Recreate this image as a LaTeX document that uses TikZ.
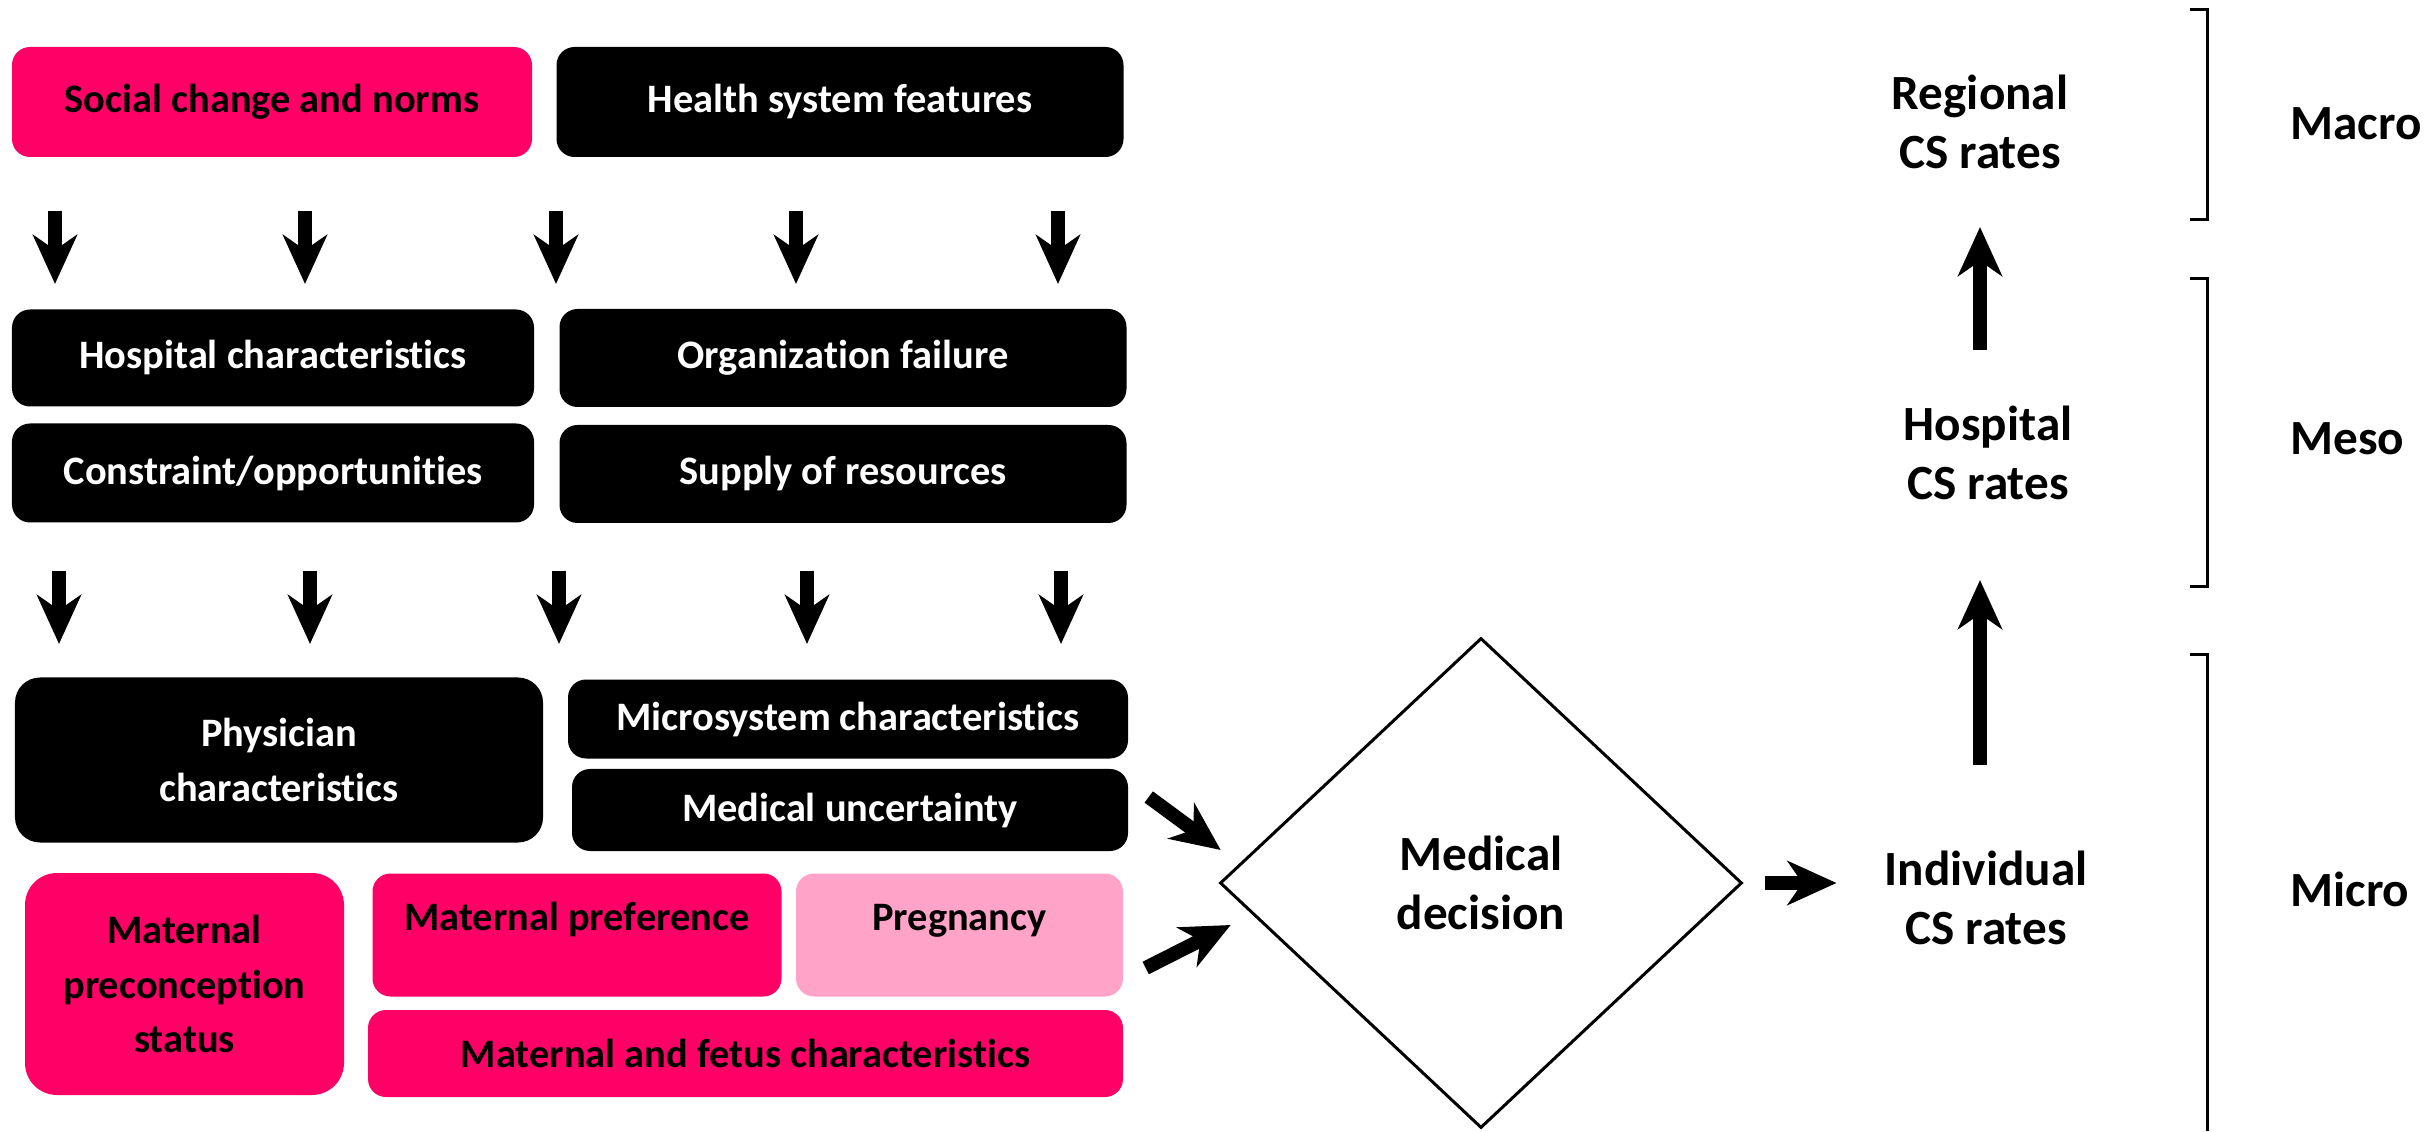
\documentclass[tikz,border=0pt]{standalone}
\usepackage{fontspec}
\setmainfont{Carlito}[RawFeature={-liga;-clig;-calt;-dlig}]
\usetikzlibrary{arrows.meta,shapes.geometric}

\definecolor{hotpink}{RGB}{255,0,102}
\definecolor{softpink}{RGB}{255,163,200}

\tikzset{
  box/.style={rounded corners=0.18cm, inner sep=0pt, align=center,
    font=\fontsize{11.5}{15.6}\selectfont\bfseries},
  darkbox/.style={box, fill=black, text=white},
  pinkbox/.style={box, fill=hotpink, text=black},
  lightbox/.style={box, fill=softpink, text=black},
  level/.style={font=\fontsize{14}{17}\selectfont\bfseries, align=center},
  blockarrow/.style={line width=0.14cm, -{Stealth[length=0.49cm, width=0.44cm, inset=0.15cm]}},
  bracket/.style={line width=0.03cm},
}

\begin{document}
\begin{tikzpicture}
        \useasboundingbox (0,0) rectangle (24.33,11.31);

        % Contexto
        \node[pinkbox, minimum width=5.20cm, minimum height=1.10cm] (social) at (2.72,10.29) {Social change and norms};
        \node[darkbox, minimum width=5.67cm, minimum height=1.10cm] (health) at (8.40,10.29) {Health system features};

        % Flechas hacia los hospitales
        \foreach \x [count=\i] in {0.55,3.05,5.56,7.96,10.58} {
          \coordinate (ctxout\i) at (\x,9.20);
          \coordinate (hospin\i) at (\x,8.47);
          \draw[blockarrow] (ctxout\i) -- (hospin\i);
        }

        % Hospital
        \node[darkbox, minimum width=5.22cm, minimum height=0.97cm] (hospchar) at (2.73,7.73) {Hospital characteristics};
        \node[darkbox, minimum width=5.67cm, minimum height=0.98cm] (orgfail) at (8.43,7.73) {Organization failure};
        \node[darkbox, minimum width=5.22cm, minimum height=0.99cm] (constraint) at (2.73,6.58) {Constraint/opportunities};
        \node[darkbox, minimum width=5.67cm, minimum height=0.98cm] (supply) at (8.43,6.57) {Supply of resources};

        % Flechas hacia el nivel micro
        \foreach \x [count=\i] in {0.59,3.10,5.59,8.07,10.61} {
          \coordinate (hospout\i) at (\x,5.60);
          \coordinate (microin\i) at (\x,4.87);
          \draw[blockarrow] (hospout\i) -- (microin\i);
        }

        % Medico y microsistema
        \node[darkbox, rounded corners=0.25cm, minimum width=5.28cm, minimum height=1.65cm] (physician) at (2.79,3.71) {Physician\\characteristics};
        \node[darkbox, minimum width=5.60cm, minimum height=0.79cm] (microsys) at (8.48,4.12) {Microsystem characteristics};
        \node[darkbox, minimum width=5.56cm, minimum height=0.82cm] (meduncert) at (8.50,3.21) {Medical uncertainty};

        % Madre
        \node[pinkbox, rounded corners=0.32cm, minimum width=3.19cm, minimum height=2.22cm] (precon) at (1.845,1.47) {Maternal\\preconception\\status};
        \node[pinkbox, minimum width=4.09cm, text height=0.57cm, text depth=0.66cm] (preference) at (5.77,1.96) {Maternal preference};
        \node[lightbox, minimum width=3.27cm, text height=0.57cm, text depth=0.66cm] (pregnancy) at (9.595,1.96) {Pregnancy};
        \node[pinkbox, minimum width=7.55cm, minimum height=0.87cm] (fetus) at (7.455,0.775) {Maternal and fetus characteristics};

        % Decision
        \node[diamond, draw, line width=0.03cm, minimum width=5.22cm, minimum height=4.90cm, inner sep=0pt, level] (decision) at (14.81,2.48) {Medical\\decision};
        \draw[blockarrow] ([xshift=0.20cm, yshift=0.13cm]meduncert.east) -- ++(0.72,-0.53);
        \draw[blockarrow] ([xshift=0.22cm, yshift=-0.33cm]pregnancy.east) -- ++(0.85,0.43);

        % Tasas de cesarea
        \node[level] (indiv) at (19.86,2.33) {Individual\\CS rates};
        \node[level] (hosprate) at (19.88,6.78) {Hospital\\CS rates};
        \node[level] (regional) at (19.80,10.09) {Regional\\CS rates};
        \draw[blockarrow] ([xshift=0.21cm]decision.east) -- ++(0.72,0);
        \coordinate (indtop) at (19.80,3.66);
        \coordinate (hospbot) at (19.80,5.51);
        \coordinate (hosptop) at (19.80,7.81);
        \coordinate (regbot) at (19.80,9.04);
        \draw[blockarrow] (indtop) -- (hospbot);
        \draw[blockarrow] (hosptop) -- (regbot);

        % Niveles
        \draw[bracket] (21.90,11.21) -- (22.07,11.21) -- (22.07,9.11) -- (21.90,9.11);
        \draw[bracket] (21.90,8.52) -- (22.07,8.52) -- (22.07,5.44) -- (21.90,5.44);
        \draw[bracket] (21.90,4.76) -- (22.07,4.76) -- (22.07,0);
        \node[level, anchor=west] (macro) at (22.78,10.07) {Macro};
        \node[level, anchor=west] (meso) at (22.78,6.92) {Meso};
        \node[level, anchor=west] (micro) at (22.78,2.42) {Micro};
    \end{tikzpicture}
\end{document}
